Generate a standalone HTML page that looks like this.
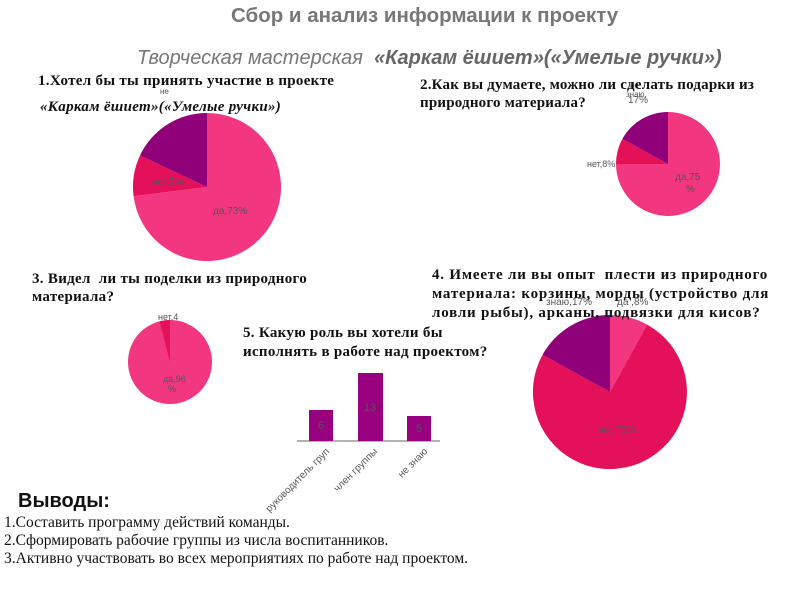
<!DOCTYPE html>
<html><head><meta charset="utf-8"><style>
body{margin:0;width:800px;height:600px;background:#fff;position:relative;overflow:hidden;font-family:"Liberation Serif",serif}
.a{position:absolute;white-space:nowrap}
.q{font-weight:bold;font-size:15px;color:#111;line-height:18px}
</style></head><body>
<div class="a" style="left:231px;top:4px;font-family:'Liberation Sans',sans-serif;font-weight:bold;font-size:20.5px;color:#777">Сбор и анализ информации к проекту</div>
<div class="a" style="left:137px;top:47px;font-family:'Liberation Sans',sans-serif;font-style:italic;font-size:20px;color:#777">Творческая мастерская &nbsp;<b style="color:#666">«Каркам ёшиет»(«Умелые ручки»)</b></div>
<svg class="a" style="left:0;top:0" width="800" height="600">
<path d="M207,187 L207,113 A74,74 0 1 1 133.6,196.3 Z" fill="#f2367f"/>
<path d="M207,187 L133.6,196.3 A74,74 0 0 1 140,155.5 Z" fill="#e4105a"/>
<path d="M207,187 L140,155.5 A74,74 0 0 1 207,113 Z" fill="#900078"/>
<path d="M668,164 L668,112 A52,52 0 1 1 616,164 Z" fill="#f2367f"/>
<path d="M668,164 L616,164 A52,52 0 0 1 622.4,138.9 Z" fill="#e4105a"/>
<path d="M668,164 L622.4,138.9 A52,52 0 0 1 668,112 Z" fill="#900078"/>
<circle cx="170" cy="362" r="42" fill="#f2367f"/>
<path d="M170,362 L170,320 A42,42 0 0 0 159.6,321.3 Z" fill="#e4105a"/>
<path d="M610,392 L610,315 A77,77 0 0 1 647.1,324.6 Z" fill="#f2367f"/>
<path d="M610,392 L647.1,324.6 A77,77 0 1 1 542.5,354.9 Z" fill="#e4105a"/>
<path d="M610,392 L542.5,354.9 A77,77 0 0 1 610,315 Z" fill="#900078"/>
<line x1="297" y1="441" x2="440" y2="441" stroke="#666"/>
<rect x="309" y="410" width="24" height="31" fill="#990080"/>
<rect x="358" y="373" width="25" height="68" fill="#990080"/>
<rect x="407" y="416" width="24" height="25" fill="#990080"/>
<g font-family="Liberation Sans,sans-serif" font-size="10" fill="#555">
<text x="321" y="429" text-anchor="middle" font-size="11">6</text>
<text x="370" y="411" text-anchor="middle" font-size="11">13</text>
<text x="419" y="432" text-anchor="middle" font-size="11">5</text>
<text transform="translate(330,452) rotate(-45)" text-anchor="end">руководитель груп</text>
<text transform="translate(378,452) rotate(-45)" text-anchor="end">член группы</text>
<text transform="translate(428,452) rotate(-45)" text-anchor="end">не знаю</text>
<text x="152" y="185">нет,9%</text>
<text x="213" y="214">да,73%</text>
<text x="160" y="94" font-size="8">не</text>
<text x="587" y="167" font-size="9">нет,8%</text>
<text x="675" y="180">да,75</text><text x="686" y="192">%</text>
<text x="630" y="88" font-size="8">не</text>
<text x="626" y="97" font-size="8">знаю,</text>
<text x="628" y="103">17%</text>
<text x="158" y="320" font-size="9">нет,4</text>
<text x="163" y="382" font-size="9">да,96</text><text x="168" y="392" font-size="9">%</text>
<text x="546" y="305">знаю,17%</text>
<text x="617" y="305">да ,8%</text>
<text x="598" y="433">нет,75%</text>
</g>
</svg>
<div class="a q" style="left:38px;top:72px;letter-spacing:.3px">1.Хотел бы ты принять участие в проекте</div>
<div class="a q" style="left:40px;top:98px;letter-spacing:.3px"><i>«Каркам ёшиет»(«Умелые ручки»)</i></div>
<div class="a q" style="left:420px;top:76px;letter-spacing:.2px">2.Как вы думаете, можно ли сделать подарки из<br>природного материала?</div>
<div class="a q" style="left:32px;top:270px;letter-spacing:.3px">3. Видел &nbsp;ли ты поделки из природного<br>материала?</div>
<div class="a q" style="left:432px;top:266px;line-height:19px;letter-spacing:.8px">4. Имеете ли вы опыт &nbsp;плести из природного<br>материала: корзины, морды (устройство для<br>ловли рыбы), арканы, подвязки для кисов?</div>
<div class="a q" style="left:243px;top:324px;line-height:19px;letter-spacing:.3px">5. Какую роль вы хотели бы<br>исполнять в работе над проектом?</div>
<div class="a" style="left:18px;top:490px;font-family:'Liberation Sans',sans-serif;font-weight:bold;font-size:20px;color:#111">Выводы:</div>
<div class="a" style="left:4px;top:514px;font-size:15.5px;color:#111;line-height:18px">1.Составить программу действий команды.<br>2.Сформировать рабочие группы из числа воспитанников.<br>3.Активно участвовать во всех мероприятиях по работе над проектом.</div>
</body></html>
